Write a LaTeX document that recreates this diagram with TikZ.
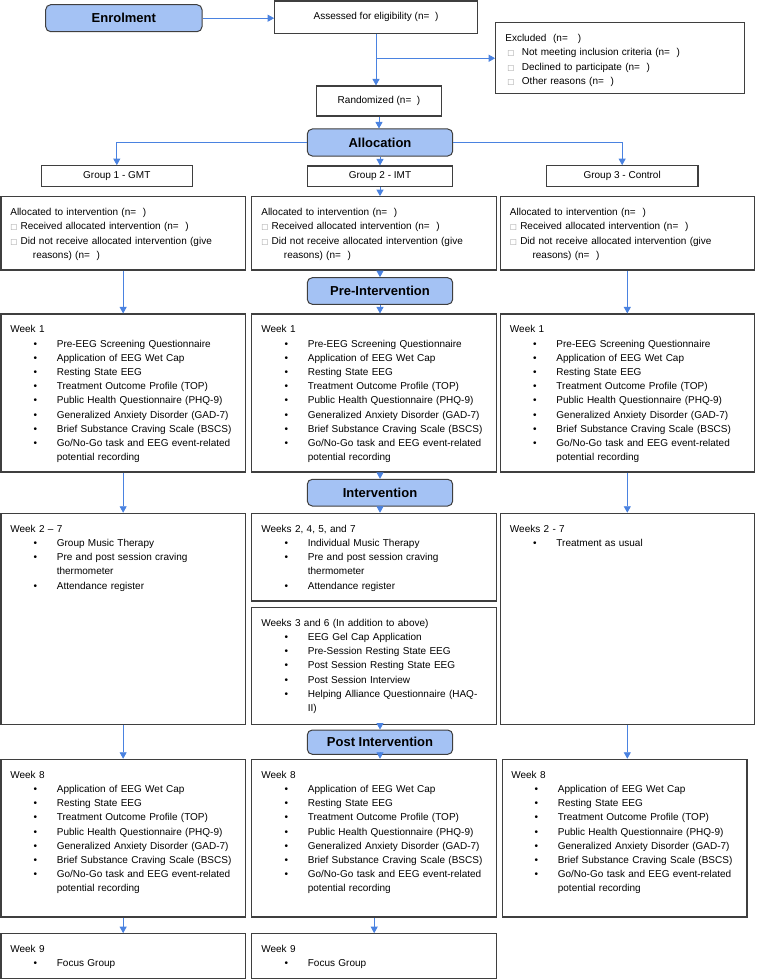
\documentclass[tikz,border=0pt]{standalone}
\usepackage{fontspec}
\setmainfont{Liberation Sans}
\newfontfamily\symfont{DejaVu Sans}
\usetikzlibrary{arrows.meta,fit}

\definecolor{hdrfill}{HTML}{A4C2F4}
\definecolor{arrblue}{HTML}{4A82E0}
\definecolor{boxline}{HTML}{3F3F3F}
\definecolor{chkgray}{HTML}{9A9A9A}

\newcommand{\bi}{\hspace*{23.2pt}\makebox[23.3pt][l]{\textbullet}}
\newcommand{\cont}{\hspace*{46.5pt}}
\newcommand{\chk}{{\symfont\fontsize{7.5}{7.5}\selectfont\color{chkgray}□}}
\newcommand{\fs}{\rule{0pt}{10pt}}

\newcommand{\alloctext}{\fs Allocated to intervention (n=\ \ )\\
\makebox[10.3pt][l]{\chk}Received allocated intervention (n=\ \ )\\
\makebox[10.3pt][l]{\chk}Did not receive allocated intervention (give\\
\hspace*{22.6pt}reasons) (n=\ \ )}

\newcommand{\weekonetext}{\fs Week 1\\
\bi Pre-EEG Screening Questionnaire\\
\bi Application of EEG Wet Cap\\
\bi Resting State EEG\\
\bi Treatment Outcome Profile (TOP)\\
\bi Public Health Questionnaire (PHQ-9)\\
\bi Generalized Anxiety Disorder (GAD-7)\\
\bi Brief Substance Craving Scale (BSCS)\\
\bi Go/No-Go task and EEG event-related\\
\cont potential recording}

\newcommand{\weekeighttext}{\fs Week 8\\
\bi Application of EEG Wet Cap\\
\bi Resting State EEG\\
\bi Treatment Outcome Profile (TOP)\\
\bi Public Health Questionnaire (PHQ-9)\\
\bi Generalized Anxiety Disorder (GAD-7)\\
\bi Brief Substance Craving Scale (BSCS)\\
\bi Go/No-Go task and EEG event-related\\
\cont potential recording}

\newcommand{\weekninetext}{\fs Week 9\\
\bi Focus Group}

\begin{document}
\begin{tikzpicture}[x=1pt,y=1pt,
  box/.style={draw=boxline, line width=1.1pt, fill=white, inner sep=0pt},
  hdr/.style={draw=boxline, line width=1pt, fill=hdrfill, rounded corners=5pt,
    inner sep=0pt},
  hdrtxt/.style={inner sep=0pt, font=\fontsize{13}{15}\selectfont\bfseries},
  ctxt/.style={inner sep=0pt, font=\fontsize{10}{12}\selectfont},
  txt/.style={anchor=north west, inner sep=0pt, align=left, text width=232pt,
    font=\fontsize{10}{14.2}\selectfont},
  arr/.style={draw=arrblue, line width=0.9pt, -{Triangle[width=7pt,length=6.5pt]}}
]
\useasboundingbox (0,0) rectangle (757,-979);

% top part
\node[hdr, fit={(45.7,-4.7) (202,-31.7)}] (enrol) {};
\node[hdrtxt] (enrolt) at (enrol.center) {Enrolment};
\node[box, fit={(274.7,-1) (477.3,-33.3)}] (assess) {};
\node[ctxt] (assesst) at (assess.center) {Assessed for eligibility (n=\ \ )};
\node[box, fit={(495.7,-22.7) (744.3,-93.3)}] (excl) {};
\node[txt] (exclt) at ([shift={(10,-9.3)}]excl.north west)
  {\fs Excluded\ \ (n=\ \ \ )\\
   \hspace*{2pt}\makebox[14.6pt][l]{\chk}Not meeting inclusion criteria (n=\ \ )\\
   \hspace*{2pt}\makebox[14.6pt][l]{\chk}Declined to participate (n=\ \ )\\
   \hspace*{2pt}\makebox[14.6pt][l]{\chk}Other reasons (n=\ \ )};
\node[box, fit={(316.3,-86) (441.7,-116)}] (rand) {};
\node[ctxt] (randt) at (rand.center) {Randomized (n=\ \ )};
\node[hdr, fit={(307.3,-129) (452.7,-156)}] (alloc) {};
\node[hdrtxt] (alloct) at (alloc.center) {Allocation};

% groups
\node[box, fit={(41.3,-165.7) (192.3,-186.3)}] (g1) {};
\node[ctxt] (g1t) at (g1.center) {Group 1 - GMT};
\node[box, fit={(307.3,-166) (452.7,-186.3)}] (g2) {};
\node[ctxt] (g2t) at (g2.center) {Group 2 - IMT};
\node[box, fit={(546.3,-165.7) (698,-186.3)}] (g3) {};
\node[ctxt] (g3t) at (g3.center) {Group 3 - Control};

% allocated boxes
\node[box, fit={(1,-196.7) (245.3,-270)}] (a1) {};
\node[box, fit={(251.7,-196.7) (496.7,-270)}] (a2) {};
\node[box, fit={(500.3,-196.7) (754.3,-270)}] (a3) {};
\node[txt] (a1t) at ([shift={(9.7,-9.3)}]a1.north west) {\alloctext};
\node[txt] (a2t) at ([shift={(10,-9.3)}]a2.north west) {\alloctext};
\node[txt] (a3t) at ([shift={(10,-9.3)}]a3.north west) {\alloctext};

\node[hdr, fit={(307.3,-277.7) (452.7,-304.3)}] (pre) {};
\node[hdrtxt] (pret) at (pre.center) {Pre-Intervention};

% week 1
\node[box, fit={(1,-314) (245.3,-472)}] (w1a) {};
\node[box, fit={(251.7,-314) (496.7,-472)}] (w1b) {};
\node[box, fit={(500.3,-314) (754.3,-472)}] (w1c) {};
\node[txt] (w1at) at ([shift={(9.7,-9.3)}]w1a.north west) {\weekonetext};
\node[txt] (w1bt) at ([shift={(10,-9.3)}]w1b.north west) {\weekonetext};
\node[txt] (w1ct) at ([shift={(10,-9.3)}]w1c.north west) {\weekonetext};

\node[hdr, fit={(307.3,-479.3) (452.7,-506)}] (inter) {};
\node[hdrtxt] (intert) at (inter.center) {Intervention};

% weeks 2-7
\node[box, fit={(1,-513.3) (245.3,-724.3)}] (m1) {};
\node[box, fit={(251.7,-513.3) (496.7,-601)}] (m2a) {};
\node[box, fit={(251.7,-607.3) (496.7,-724.3)}] (m2b) {};
\node[box, fit={(500.3,-513.3) (754.3,-724.3)}] (m3) {};
\node[txt] (m1t) at ([shift={(9.7,-9.3)}]m1.north west)
  {\fs Week 2 – 7\\
   \bi Group Music Therapy\\
   \bi Pre and post session craving\\
   \cont thermometer\\
   \bi Attendance register};
\node[txt] (m2at) at ([shift={(10,-9.3)}]m2a.north west)
  {\fs Weeks 2, 4, 5, and 7\\
   \bi Individual Music Therapy\\
   \bi Pre and post session craving\\
   \cont thermometer\\
   \bi Attendance register};
\node[txt] (m2bt) at ([shift={(10,-9.3)}]m2b.north west)
  {\fs Weeks 3 and 6 (In addition to above)\\
   \bi EEG Gel Cap Application\\
   \bi Pre-Session Resting State EEG\\
   \bi Post Session Resting State EEG\\
   \bi Post Session Interview\\
   \bi Helping Alliance Questionnaire (HAQ-\\
   \cont II)};
\node[txt] (m3t) at ([shift={(10,-9.3)}]m3.north west)
  {\fs Weeks 2 - 7\\
   \bi Treatment as usual};

\node[hdr, fit={(307.3,-730) (452.7,-754.3)}] (post) {};
\node[hdrtxt] (postt) at (post.center) {Post Intervention};

% week 8
\node[box, fit={(1,-759.3) (245.3,-917)}] (e1) {};
\node[box, fit={(251.7,-759.3) (496.7,-917)}] (e2) {};
\node[box, fit={(502.3,-759.3) (747,-917)}] (e3) {};
\node[txt] (e1t) at ([shift={(9.7,-9.3)}]e1.north west) {\weekeighttext};
\node[txt] (e2t) at ([shift={(10,-9.3)}]e2.north west) {\weekeighttext};
\node[txt] (e3t) at ([shift={(9.4,-9.3)}]e3.north west) {\weekeighttext};

% week 9
\node[box, fit={(1,-933.7) (245.3,-978.2)}] (n1) {};
\node[box, fit={(251.7,-933.7) (496.7,-978.2)}] (n2) {};
\node[txt] (n1t) at ([shift={(9.7,-9.3)}]n1.north west) {\weekninetext};
\node[txt] (n2t) at ([shift={(10,-9.3)}]n2.north west) {\weekninetext};

% connectors
\draw[arr] (enrol.east) -- (enrol.east -| assess.west);
\draw[arr] (assess.south) -- (assess.south |- rand.north);
\path (assess.south) ++(0,-24.4) coordinate (br);
\draw[arr] (br) -- (br -| excl.west);
\draw[arr] (rand.south) -- (rand.south |- alloc.north);
\draw[arr] (alloc.west) -| (g1.north);
\draw[arr] (alloc.east) -| (g3.north);
\draw[arr] (alloc.south) -- (g2.north);
\draw[arr] (g2.south) -- (g2.south |- a2.north);
\draw[arr] (a2.south -| pre.north) -- (pre.north);
\draw[arr] (pre.south) -- (pre.south |- w1b.north);
\draw[arr] (w1b.south -| inter.north) -- (inter.north);
\draw[arr] (inter.south) -- (inter.south |- m2a.north);
\draw[arr] (m2b.south -| post.north) -- (post.north);
\draw[arr] (post.south) -- (post.south |- e2.north);
\draw[arr] (e2.south) -- (n2.north);
\draw[arr] (a1.south) -- (w1a.north);
\draw[arr] (w1a.south) -- (m1.north);
\draw[arr] (m1.south) -- (e1.north);
\draw[arr] (e1.south) -- (n1.north);
\draw[arr] (a3.south) -- (w1c.north);
\draw[arr] (w1c.south) -- (m3.north);
\draw[arr] (m3.south) -- (m3.south |- e3.north);
\end{tikzpicture}
\end{document}
